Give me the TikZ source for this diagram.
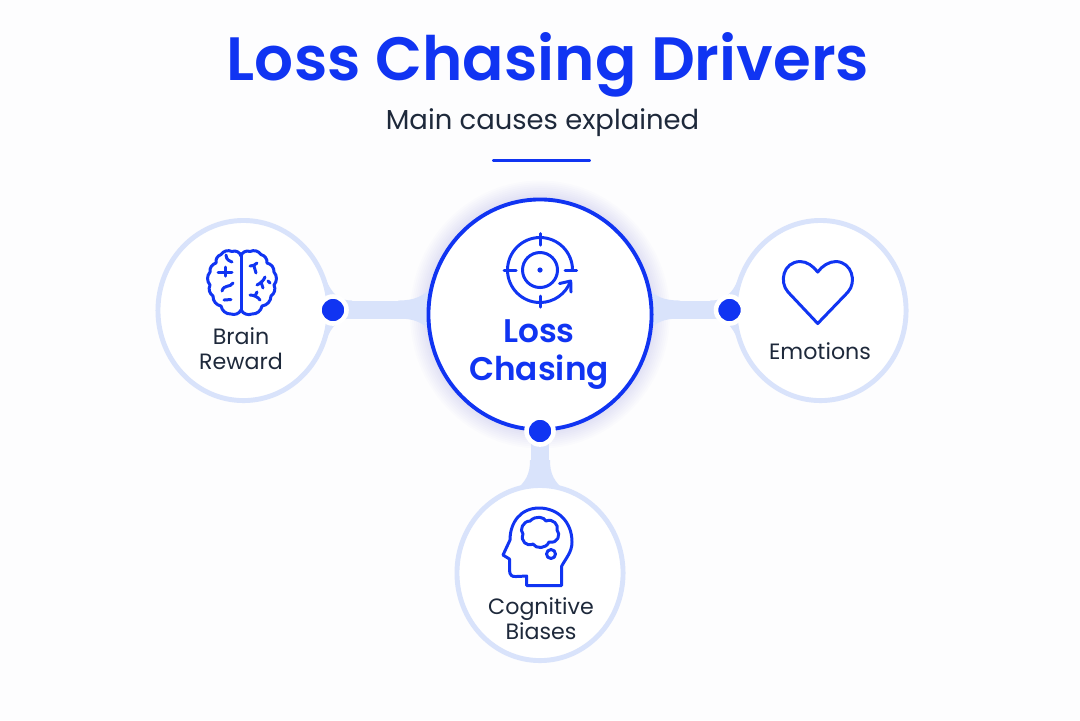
\documentclass[tikz,border=0pt]{standalone}
\usepackage{fontspec}
\setmainfont{Poppins}[BoldFont={Poppins SemiBold}]
\usepackage{xcolor}
\usetikzlibrary{shapes.geometric}
\usetikzlibrary{positioning}

\definecolor{RoyalInk}{HTML}{1034F2}
\definecolor{PaleRing}{HTML}{D9E3FB}
\definecolor{SlateText}{HTML}{1E293B}
\definecolor{PageTone}{HTML}{FDFDFE}

\tikzset{
  sidering/.style={ellipse, draw=PaleRing, fill=white, line width=1.4pt, inner sep=0pt},
  corering/.style={ellipse, draw=RoyalInk, fill=white, line width=1.1pt, inner sep=0pt,
    minimum width=2.23cm, minimum height=2.30cm},
  joint/.style={circle, fill=RoyalInk, draw=white, line width=1.3pt, inner sep=0pt, minimum size=0.27cm},
  band/.style={draw=PaleRing, line width=1.8mm},
  flare/.style={fill=PaleRing, draw=none},
  icon/.style={draw=RoyalInk, line width=0.85pt, line cap=round, line join=round},
  sidelabel/.style={align=center, text=SlateText, inner sep=0pt, font=\fontsize{6.3}{7.1}\selectfont},
}

\begin{document}
\begin{tikzpicture}[x=0.01cm, y=-0.01cm]

    \fill [PageTone] (0,0) rectangle (1080,720);
    \useasboundingbox (0,0) rectangle (1080,720);

    \node [inner sep=0pt, text=RoyalInk, font=\fontsize{17.4}{20}\bfseries\selectfont] (title) at (548,65) {Loss Chasing Drivers};
    \node [inner sep=0pt, text=SlateText, font=\fontsize{7.8}{10}\selectfont] (subtitle) at (542.5,123) {Main causes explained};
    \draw [RoyalInk, line width=1.1pt, line cap=round] (494,160.5) -- (589,160.5);

    % glow behind the middle
    \foreach \g in {1,...,10}
      \fill [RoyalInk, opacity=0.012] (540,314.5) ellipse ({111+1.9*\g} and {115+1.9*\g});

    \coordinate (corespot) at (540,314.5);
    \coordinate (brainspot) at (243.5,310.5);
    \coordinate (heartspot) at (820.5,310.5);
    \coordinate (biasspot) at (540,573);
    \coordinate (brainstem) at (333,309.5);
    \coordinate (heartstem) at (729.5,309.5);

    \draw [band] (brainstem) -- (corespot |- brainstem);
    \draw [band] (heartstem) -- (corespot |- heartstem);
    \draw [band] (biasspot) -- (corespot);

    \fill [flare] (398,300.5) .. controls (414,300.5) and (422,297) .. (434,286) -- (434,333) .. controls (422,322) and (414,318.5) .. (398,318.5) -- cycle;
    \fill [flare] (680,300.5) .. controls (664,300.5) and (656,297) .. (646,287) -- (646,332) .. controls (656,322) and (664,318.5) .. (680,318.5) -- cycle;
    \fill [flare] (326,280) .. controls (332,293) and (338,300.5) .. (352,300.5) -- (352,318.5) .. controls (338,318.5) and (332,326) .. (326,340) -- cycle;
    \fill [flare] (738,280) .. controls (732,293) and (726,300.5) .. (710,300.5) -- (710,318.5) .. controls (726,318.5) and (732,326) .. (738,340) -- cycle;
    \fill [flare] (530,460) .. controls (530,474) and (526,481) .. (516,490) -- (564,490) .. controls (554,481) and (550,474) .. (550,460) -- cycle;

    \node [sidering, minimum width=1.71cm, minimum height=1.80cm] (brain) at (brainspot) {};
    \node [sidering, minimum width=1.71cm, minimum height=1.80cm] (heart) at (heartspot) {};
    \node [sidering, minimum width=1.66cm, minimum height=1.75cm] (bias) at (biasspot) {};
    \node [corering] (core) at (corespot) {};

    \node [joint] (brainjoint) at (333,310) {};
    \node [joint] (heartjoint) at (729.5,310) {};
    \node [joint] (biasjoint) at (540,431) {};

    % target
    \draw [icon] (572.5,270) arc (0:-340:32.5);
    \draw [icon] (540,270) circle (17.5);
    \fill [RoyalInk] (540,270) circle (2.6);
    \draw [icon] (540,233.5) -- (540,245);
    \draw [icon] (540,296) -- (540,307);
    \draw [icon] (504,270) -- (516,270);
    \draw [icon] (565,270) -- (576.5,270);
    \draw [icon] (559.5,283.5) -- (570.7,281) -- (571,292);

    % brain
    \draw [icon] (241,256) to[bend right=50] (232,251.5) to[bend right=40] (221,254.5) to[bend right=40] (216,263)
      to[bend right=40] (210,272) to[bend right=40] (210,285) to[bend right=40] (213,296)
      to[bend right=40] (221,306) to[bend right=40] (231,314) to[bend right=40] (241,310);
    \draw [icon] (241,256) to[bend left=50] (250,251.5) to[bend left=40] (261,254.5) to[bend left=40] (267,263)
      to[bend left=40] (274,272) to[bend left=40] (274,285) to[bend left=40] (271,296)
      to[bend left=40] (262,306) to[bend left=40] (252,314) to[bend left=40] (241,310);
    \draw [icon] (241,256) -- (241,310);
    \draw [icon] (218,272) -- (232,272);
    \draw [icon] (225,267) -- (225,276);
    \draw [icon] (222,291) .. controls (224,284) and (230,288) .. (233,283);
    \draw [icon] (224,300) -- (231,299.5);
    \draw [icon] (226,255) .. controls (226,260) and (230,261) .. (232,262);
    \draw [icon] (250,266) .. controls (253,266) and (255,265) .. (257,263);
    \draw [icon] (254,266) -- (256,273);
    \draw [icon] (257,285) .. controls (261,283) and (264,280) .. (265,277);
    \draw [icon] (261,282) -- (263,288);
    \draw [icon] (250,295) .. controls (254,295) and (258,297) .. (260,300);
    \draw [icon] (255,296) -- (257,292);
    \draw [icon] (268,281) -- (270,283);

    % head
    \draw [icon] (526.7,585.5) -- (561.7,585.5) -- (561.7,566) .. controls (566,558) and (572,552) .. (572,542)
      .. controls (572,522) and (558,508) .. (539,508) .. controls (521,508) and (510,522) .. (510,540)
      -- (503,555) -- (509.5,559) -- (509.5,570) .. controls (509.5,575) and (512,577) .. (516,576.5)
      -- (526.7,576) -- cycle;
    \draw [icon] (530,521) .. controls (536,515) and (544,517) .. (546,521) .. controls (553,518) and (559,525) .. (557,530)
      .. controls (561,534) and (558,544) .. (549,542) .. controls (546,549) and (536,549) .. (533,544)
      .. controls (527,547) and (520,541) .. (523,534) .. controls (519,530) and (523,521) .. (530,521) -- cycle;
    \draw [icon] (551,554) circle (4.5);

    % heart
    \draw [icon] (817.7,323.5) -- (788,292) .. controls (779,282) and (783,262) .. (800,261.5)
      .. controls (807,261.5) and (813,266) .. (817.7,272) .. controls (822,266) and (829,261.5) .. (836,261.5)
      .. controls (852,262) and (857,282) .. (848,292) -- cycle;

    \node [inner sep=0pt, align=center, text=RoyalInk, font=\fontsize{9.3}{10.8}\bfseries\selectfont] (corelabel) at (539,355) {Loss\\Chasing};
    \node [sidelabel] (brainlabel) at (241,348.5) {Brain\\Reward};
    \node [sidelabel] (heartlabel) at (820,351) {Emotions};
    \node [sidelabel] (biaslabel) at (541,619) {Cognitive\\Biases};

\end{tikzpicture}
\end{document}
